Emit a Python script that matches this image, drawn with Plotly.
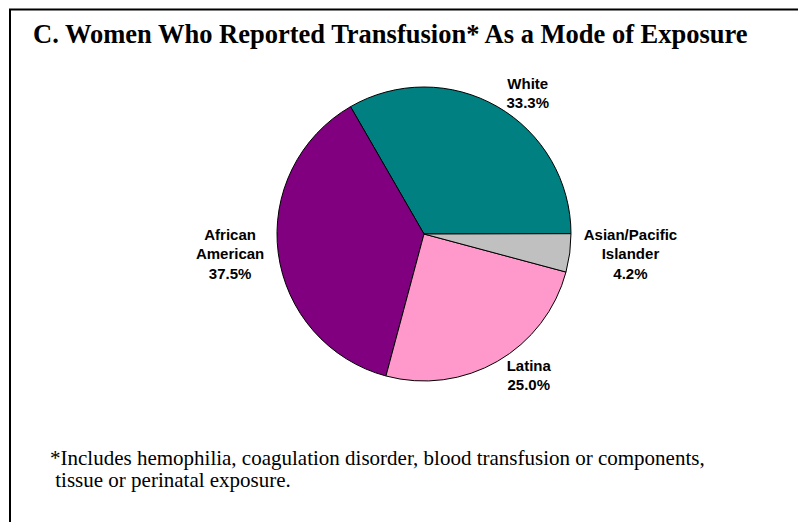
import plotly.graph_objects as go

# data
groups = ["White", "African<br>American", "Latina", "Asian/Pacific<br>Islander"]
shares = [33.3, 37.5, 25.0, 4.2]
slice_colors = ["#008080", "#800080", "#FF99CC", "#C0C0C0"]

title_text = "<b>C. Women Who Reported Transfusion* As a Mode of Exposure</b>"
note_lines = [
    "*Includes hemophilia, coagulation disorder, blood transfusion or components,",
    " tissue or perinatal exposure.",
]

W, H = 806, 522
OFF = 8  # page body margin shifts the figure
cx, cy, r = 424 - OFF, 234 - OFF, 147

fig = go.Figure(go.Pie(
    labels=groups,
    values=shares,
    sort=False,
    direction="counterclockwise",
    rotation=-30,
    marker=dict(colors=slice_colors, line=dict(color="black", width=1)),
    texttemplate="<b>%{label}<br>%{percent:.1%}</b>",
    textposition="outside",
    textfont=dict(family="Arial, Liberation Sans", size=15, color="black"),
    showlegend=False,
    hoverinfo="label+percent",
    domain=dict(x=[(cx - r) / W, (cx + r) / W],
                y=[(H - cy - r) / H, (H - cy + r) / H]),
    automargin=False,
))

serif = "Times New Roman, Liberation Serif"
notes = [
    dict(text=t, xref="paper", yref="paper", x=(48 - OFF) / W, y=1 - (yc - OFF) / H,
         xanchor="left", yanchor="middle", align="left", showarrow=False,
         font=dict(family=serif, size=21, color="black"))
    for t, yc in zip(note_lines, [458, 480])
]

fig.update_layout(
    width=W, height=H,
    margin=dict(l=0, r=0, t=0, b=0),
    paper_bgcolor="white",
    shapes=[dict(type="rect", xref="paper", yref="paper",
                 x0=(10 - OFF) / W, x1=1.05, y0=-0.05, y1=1 - 1.5 / H,
                 line=dict(color="black", width=2))],
    annotations=[
        dict(text=title_text,
             xref="paper", yref="paper", x=(31 - OFF) / W, y=1 - (34 - OFF) / H,
             xanchor="left", yanchor="middle", showarrow=False,
             font=dict(family=serif, size=26.5, color="black")),
    ] + notes,
)

fig.write_html("out.html")
